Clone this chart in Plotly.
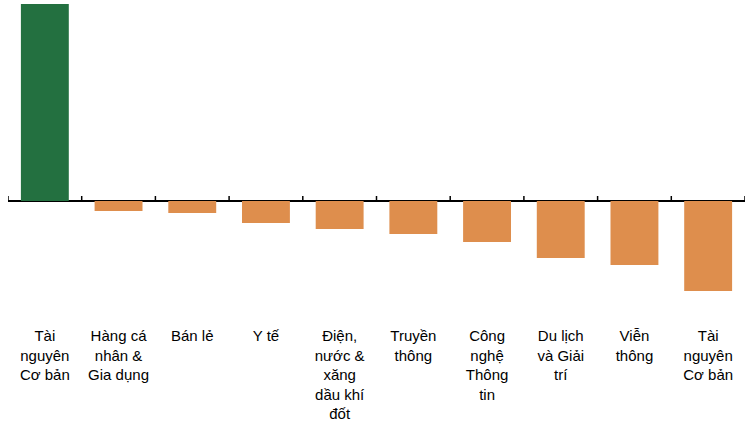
import plotly.graph_objects as go

categories = [
    "Tài<br>nguyên<br>Cơ bản",
    "Hàng cá<br>nhân &<br>Gia dụng",
    "Bán lẻ",
    "Y tế",
    "Điện,<br>nước &<br>xăng<br>dầu khí<br>đốt",
    "Truyền<br>thông",
    "Công<br>nghệ<br>Thông<br>tin",
    "Du lịch<br>và Giải<br>trí",
    "Viễn<br>thông",
    "Tài<br>nguyên<br>Cơ bản",
]
values = [19.7, -1.0, -1.2, -2.2, -2.8, -3.3, -4.1, -5.7, -6.4, -9.0]
pos_color = "#237040"
neg_color = "#DE8E4D"

x_idx = list(range(len(categories)))
colors = [pos_color if v >= 0 else neg_color for v in values]

fig = go.Figure(go.Bar(
    x=x_idx, y=values, marker=dict(color=colors, line=dict(width=0)),
    width=0.65,
))

shapes = []
for i in range(len(categories) + 1):
    shapes.append(dict(
        type="line", xref="x", yref="y", x0=i - 0.5, x1=i - 0.5,
        ysizemode="pixel", yanchor=0, y0=0, y1=5,
        line=dict(color="black", width=1.5),
    ))

font_fam = "Liberation Sans, Arial, sans-serif"
fig.update_layout(
    width=745, height=438,
    margin=dict(l=8, r=0, t=4, b=120, autoexpand=False),
    plot_bgcolor="white", paper_bgcolor="white",
    showlegend=False,
    shapes=shapes,
    xaxis=dict(
        range=[-0.5, len(categories) - 0.5],
        tickmode="array", tickvals=x_idx, ticktext=categories,
        showline=False, showgrid=False, zeroline=False, ticks="",
        tickfont=dict(family=font_fam, size=15, color="black"),
        tickangle=0, automargin=False, ticklabelstandoff=7,
    ),
    yaxis=dict(
        range=[-11.7, 19.7], showticklabels=False, showgrid=False,
        zeroline=True, zerolinecolor="black", zerolinewidth=2,
        showline=False, ticks="", automargin=False,
    ),
)

fig.write_html(
    "out.html",
    config={"displayModeBar": False},
    post_script="document.body.style.margin='0px';",
)
